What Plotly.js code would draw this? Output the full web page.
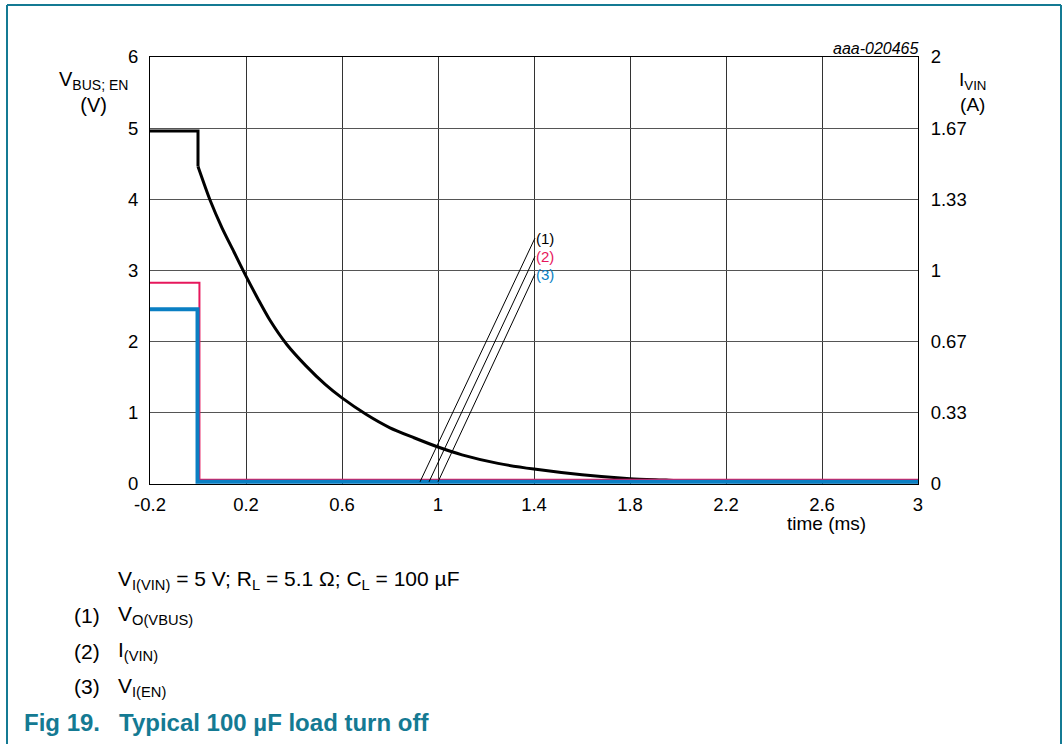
<!DOCTYPE html>
<html>
<head>
<meta charset="utf-8">
<script src="https://cdn.plot.ly/plotly-3.0.1.min.js"></script>
<style>
html,body{margin:0;padding:0;background:#fff;}
#chart{width:1063px;height:744px;}
</style>
</head>
<body>
<div id="chart"></div>
<script>
// ---- data ----
const vbusTime = [-0.2, -0.1, 0.0, 0.0, 0.05, 0.1, 0.15, 0.2, 0.25, 0.3, 0.37, 0.45, 0.53, 0.6, 0.7, 0.8, 0.9, 1.0, 1.1, 1.25, 1.4, 1.6, 1.8, 1.95, 2.05, 2.5, 3.0];
const vbusVolt = [4.96, 4.96, 4.96, 4.46, 3.99, 3.6, 3.26, 2.92, 2.6, 2.3, 1.96, 1.66, 1.40, 1.21, 0.98, 0.79, 0.65, 0.52, 0.41, 0.29, 0.21, 0.13, 0.075, 0.055, 0.04, 0.03, 0.03];

const ivinTime = [-0.2, 0.006, 0.006, 3.0];
const ivinAmp  = [0.943, 0.943, 0.02, 0.02];

const venTime = [-0.2, -0.002, -0.002, 3.0];
const venVolt = [2.455, 2.455, 0.03, 0.03];

const xTickVals = [-0.2, 0.2, 0.6, 1.0, 1.4, 1.8, 2.2, 2.6, 3.0];
const xTickText = ['-0.2', '0.2', '0.6', '1', '1.4', '1.8', '2.2', '2.6', '3'];
const yTickVals = [0, 1, 2, 3, 4, 5, 6];
const y2TickVals = [0, 1/3, 2/3, 1, 4/3, 5/3, 2];
const y2TickText = ['0', '0.33', '0.67', '1', '1.33', '1.67', '2'];

const calloutLabels = ['(1)', '(2)', '(3)'];
const calloutTopX = [1.404, 1.404, 1.404];
const calloutTopY = [3.455, 3.20, 2.95];
const calloutEndX = [0.925, 0.9625, 1.0];
const calloutEndY = [0.03, 0.03, 0.03];

const noteLines = ['V<sub>O(VBUS)</sub>', 'I<sub>(VIN)</sub>', 'V<sub>I(EN)</sub>'];

// ---- styling ----
const BLACK = '#000000', RED = '#e6175c', BLUE = '#0a7fc3', TEAL = '#147a93';
const seriesColors = [BLACK, RED, BLUE];
const FONT = 'Liberation Sans, Arial, sans-serif';

const L = 150, R = 918, T = 57, B = 484;
function px(x){ return (x - L) / (R - L); }
function py(y){ return (B - y) / (B - T); }

const STEP_END = 4; // the flat part and the drop of V(VBUS) are straight segments
const traces = [
  {x: vbusTime.slice(0, STEP_END), y: vbusVolt.slice(0, STEP_END), type: 'scatter', mode: 'lines', line: {color: BLACK, width: 3}, yaxis: 'y', hoverinfo: 'skip'},
  {x: vbusTime.slice(STEP_END - 1), y: vbusVolt.slice(STEP_END - 1), type: 'scatter', mode: 'lines', line: {color: BLACK, width: 3, shape: 'spline', smoothing: 0.7}, yaxis: 'y', hoverinfo: 'skip'},
  {x: ivinTime, y: ivinAmp, type: 'scatter', mode: 'lines', line: {color: RED, width: 2}, yaxis: 'y2', hoverinfo: 'skip'},
  {x: venTime, y: venVolt, type: 'scatter', mode: 'lines', line: {color: BLUE, width: 4}, yaxis: 'y3', hoverinfo: 'skip'}
];

const annotations = [];
function addText(text, x, y, xanchor, size, color){
  annotations.push({
    text: text, xref: 'paper', yref: 'paper', x: px(x), y: py(y),
    xanchor: xanchor, yanchor: 'middle', showarrow: false, borderpad: 0,
    font: {family: FONT, size: size, color: color}
  });
}
addText('<i>aaa-020465</i>', 920, 49, 'right', 16, BLACK);
addText('V<sub>BUS; EN</sub><br>(V)', 93, 92, 'center', 20, BLACK);
addText('I<sub>VIN</sub><br>(A)', 972, 92, 'center', 19, BLACK);
addText('time (ms)', 826, 523, 'center', 19, BLACK);

calloutLabels.forEach(function(lbl, i){
  annotations.push({
    text: lbl, xref: 'x', yref: 'y', x: calloutTopX[i], y: calloutTopY[i],
    xanchor: 'left', yanchor: 'middle', xshift: 0, showarrow: false, borderpad: 0,
    font: {family: FONT, size: 15, color: seriesColors[i]}
  });
});

addText('V<sub>I(VIN)</sub> = 5 V; R<sub>L</sub> = 5.1 Ω; C<sub>L</sub> = 100 µF', 117, 580, 'left', 21, BLACK);
const noteY = [615, 651, 687];
noteLines.forEach(function(t, i){
  addText('(' + (i + 1) + ')', 73, noteY[i], 'left', 21, BLACK);
  addText(t, 117, noteY[i], 'left', 21, BLACK);
});
addText('<b>Fig 19.</b>', 23, 722, 'left', 24, TEAL);
addText('<b>Typical 100 µF load turn off</b>', 118, 722, 'left', 24, TEAL);

const shapes = calloutLabels.map(function(_, i){
  return {type: 'line', xref: 'x', yref: 'y', x0: calloutTopX[i], y0: calloutTopY[i], x1: calloutEndX[i], y1: calloutEndY[i],
          line: {color: BLACK, width: 1}, layer: 'above'};
});
// figure frame (teal)
shapes.push({type: 'line', xref: 'paper', yref: 'paper', x0: px(7), y0: py(5), x1: px(1061), y1: py(5), line: {color: TEAL, width: 2}});
shapes.push({type: 'line', xref: 'paper', yref: 'paper', x0: px(7), y0: py(5), x1: px(7), y1: py(760), line: {color: TEAL, width: 2}});
shapes.push({type: 'line', xref: 'paper', yref: 'paper', x0: px(1061), y0: py(5), x1: px(1061), y1: py(760), line: {color: TEAL, width: 2}});

const tickFont = {family: FONT, size: 18.5, color: BLACK};
const layout = {
  width: 1063, height: 744,
  margin: {l: L, r: 1063 - R, t: T, b: 744 - B, pad: 0},
  paper_bgcolor: '#ffffff', plot_bgcolor: '#ffffff',
  showlegend: false,
  font: {family: FONT, size: 18, color: BLACK},
  xaxis: {
    range: [-0.2, 3], tickvals: xTickVals, ticktext: xTickText,
    showgrid: true, gridcolor: '#333333', gridwidth: 1, zeroline: false,
    showline: true, linecolor: BLACK, linewidth: 1, mirror: true, layer: 'below traces',
    ticks: 'outside', ticklen: 4, tickcolor: 'rgba(0,0,0,0)',
    tickfont: tickFont, fixedrange: true
  },
  // voltage, left
  yaxis: {
    range: [0, 6], tickvals: yTickVals, side: 'left',
    showgrid: true, gridcolor: '#555555', gridwidth: 1, zeroline: false,
    showline: true, linecolor: BLACK, linewidth: 1, layer: 'below traces',
    ticks: 'outside', ticklen: 7, tickcolor: 'rgba(0,0,0,0)',
    tickfont: tickFont, fixedrange: true
  },
  // current, right
  yaxis2: {
    range: [0, 2], tickvals: y2TickVals, ticktext: y2TickText,
    overlaying: 'y', side: 'right', showgrid: false, zeroline: false,
    showline: true, linecolor: BLACK, linewidth: 1,
    ticks: 'outside', ticklen: 8, tickcolor: 'rgba(0,0,0,0)',
    tickfont: tickFont, fixedrange: true
  },
  // voltage again (hidden) so that V(EN) is drawn above I(VIN)
  yaxis3: {
    range: [0, 6], overlaying: 'y', side: 'left', visible: false,
    showgrid: false, zeroline: false, fixedrange: true
  },
  annotations: annotations,
  shapes: shapes
};

Plotly.newPlot('chart', traces, layout, {staticPlot: true, displayModeBar: false});
</script>
</body>
</html>
